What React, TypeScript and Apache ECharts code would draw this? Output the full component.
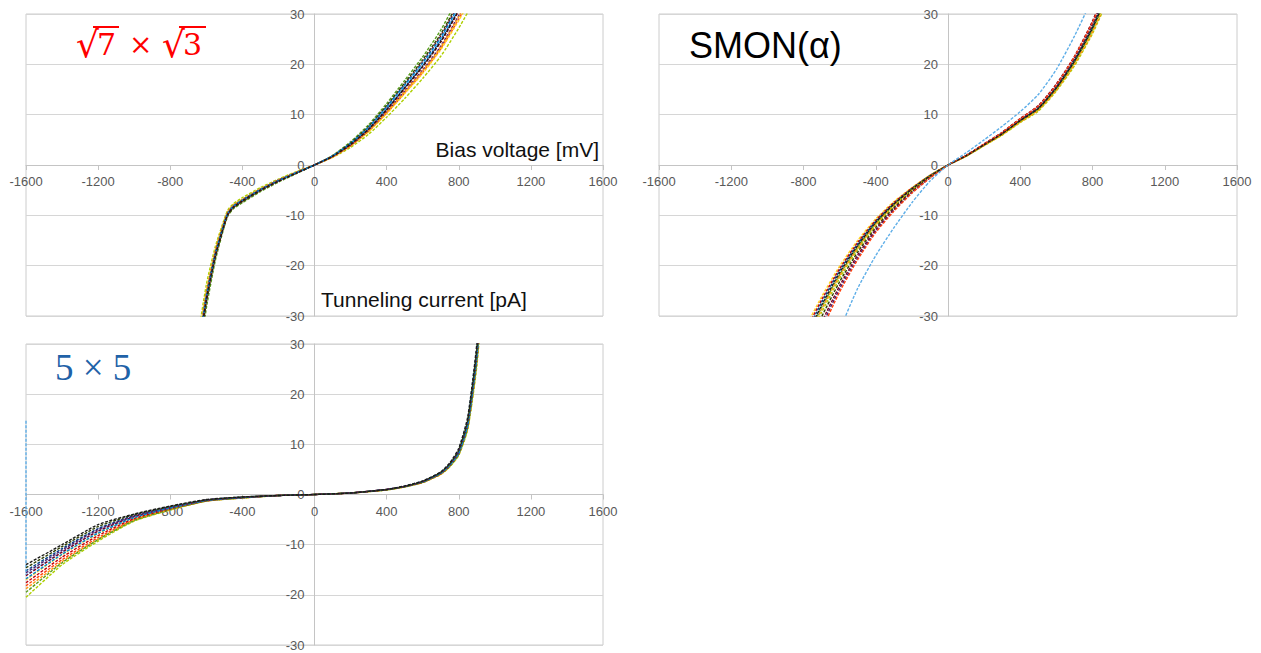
import React, { useEffect, useRef } from 'react';
import * as echarts from 'echarts';

// ---------- Panel 1: √7 × √3 ----------
const P1_BIAS = [-650, -600, -550, -500, -480, -450, -400, -300, -200, -100, 0, 100, 200, 300, 400, 500, 600, 700, 800, 900];
const p1_1 = [-41, -28.5, -19, -12.2, -10.1, -8.7, -7.5, -5.3, -3.4, -1.7, 0, 1.9, 4.6, 8.0, 12.2, 16.8, 21.5, 26.8, 33.5, 41];
const p1_2 = [-35, -23.8, -16.2, -10.7, -8.9, -7.7, -6.5, -4.5, -2.8, -1.3, 0, 1.5, 3.5, 6.1, 9.5, 13.2, 17.2, 21.6, 27.2, 33.5];
const p1_3 = [-38.5, -26.4, -17.8, -11.6, -9.6, -8.3, -7.1, -5.0, -3.1, -1.5, 0, 1.7, 4.1, 7.2, 11.1, 15.4, 19.8, 24.8, 31.0, 38];
const p1_4 = [-37.2, -25.4, -17.1, -11.2, -9.3, -8.0, -6.9, -4.8, -3.0, -1.5, 0, 1.6, 3.8, 6.7, 10.3, 14.3, 18.4, 23.1, 29.0, 35.6];
const p1_5 = [-36.5, -25.0, -16.8, -11.0, -9.2, -7.9, -6.8, -4.7, -3.0, -1.4, 0, 1.6, 3.8, 6.6, 10.2, 14.2, 18.2, 22.9, 28.7, 35.2];
const p1_6 = [-39.2, -26.9, -18.1, -11.8, -9.8, -8.4, -7.2, -5.0, -3.2, -1.6, 0, 1.8, 4.3, 7.5, 11.6, 16.0, 20.5, 25.6, 32.0, 39];
const p1_7 = [-38.2, -26.2, -17.6, -11.5, -9.5, -8.2, -7.0, -4.9, -3.1, -1.5, 0, 1.8, 4.2, 7.4, 11.4, 15.7, 20.1, 25.0, 31.3, 38.3];
const p1_8 = [-39.8, -27.4, -18.4, -11.9, -9.9, -8.5, -7.3, -5.1, -3.2, -1.6, 0, 1.8, 4.4, 7.7, 11.8, 16.3, 20.9, 26.0, 32.5, 39.6];
const p1_9 = [-37.6, -25.7, -17.3, -11.3, -9.4, -8.1, -6.9, -4.8, -3.0, -1.5, 0, 1.7, 3.9, 6.9, 10.6, 14.7, 18.9, 23.6, 29.7, 36.4];
const p1_10 = [-37.9, -25.9, -17.4, -11.4, -9.5, -8.2, -7.0, -4.9, -3.1, -1.5, 0, 1.6, 3.9, 6.8, 10.5, 14.6, 18.7, 23.4, 29.5, 36.1];
const p1_11 = [-38.8, -26.6, -17.9, -11.7, -9.7, -8.3, -7.1, -5.0, -3.2, -1.5, 0, 1.7, 4.0, 7.1, 10.9, 15.2, 19.5, 24.4, 30.6, 37.5];
const p1_12 = [-38.3, -26.2, -17.7, -11.5, -9.6, -8.2, -7.0, -4.9, -3.1, -1.5, 0, 1.8, 4.3, 7.5, 11.5, 15.9, 20.3, 25.3, 31.6, 38.6];
const p1_13 = [-38.9, -26.7, -18.0, -11.7, -9.7, -8.4, -7.1, -5.0, -3.2, -1.6, 0, 1.7, 4.1, 7.1, 11.0, 15.3, 19.6, 24.5, 30.8, 37.7];

// ---------- Panel 2: SMON(α) ----------
const P2_BIAS = [-800, -700, -600, -500, -400, -300, -200, -100, 0, 100, 200, 300, 400, 500, 600, 700, 800, 900];
const p2_1 = [-33, -26.2, -20.1, -15.0, -10.7, -7.3, -4.5, -2.0, 0, 1.76, 3.92, 6.08, 8.62, 10.98, 15.0, 20.2, 26.7, 34.8];
const p2_2 = [-33.8, -26.8, -20.6, -15.4, -11.0, -7.5, -4.6, -2.1, 0, 1.86, 4.13, 6.4, 9.09, 11.57, 15.8, 21.3, 28.1, 36.7];
const p2_3 = [-34.5, -27.3, -21.0, -15.7, -11.2, -7.7, -4.7, -2.1, 0, 1.8, 4.03, 6.25, 8.87, 11.3, 15.4, 20.8, 27.4, 35.8];
const p2_4 = [-35.8, -28.3, -21.8, -16.3, -11.6, -7.9, -4.8, -2.2, 0, 1.78, 3.96, 6.14, 8.71, 11.1, 15.1, 20.4, 26.9, 35.1];
const p2_5 = [-37, -29.3, -22.5, -16.8, -12, -8.2, -5, -2.3, 0, 1.72, 3.83, 5.94, 8.43, 10.7, 14.7, 19.7, 26.1, 34.0];
const p2_6 = [-38.2, -30.2, -23.2, -17.3, -12.4, -8.5, -5.2, -2.4, 0, 1.84, 4.08, 6.32, 8.98, 11.4, 15.6, 21.0, 27.7, 36.2];
const p2_7 = [-39.5, -31.3, -24.0, -17.9, -12.8, -8.8, -5.4, -2.5, 0, 1.89, 4.2, 6.51, 9.24, 11.8, 16.1, 21.6, 28.6, 37.3];
const p2_8 = [-40.5, -32.1, -24.6, -18.4, -13.1, -9.0, -5.5, -2.5, 0, 1.85, 4.1, 6.36, 9.02, 11.5, 15.7, 21.1, 27.9, 36.4];
const p2_9 = [-36.2, -28.7, -22.0, -16.5, -11.8, -8.0, -4.9, -2.2, 0, 1.75, 3.89, 6.03, 8.55, 10.9, 14.9, 20.0, 26.4, 34.5];
const p2_10 = [-41.5, -32.9, -25.2, -18.8, -13.4, -9.2, -5.6, -2.6, 0, 1.88, 4.17, 6.46, 9.17, 11.7, 15.9, 21.5, 28.3, 37.0];
const p2_11 = [-35.2, -27.9, -21.4, -16.0, -11.4, -7.8, -4.8, -2.2, 0, 1.8, 4.0, 6.2, 8.8, 11.2, 15.3, 20.6, 27.2, 35.5];
const p2_12 = [-60, -45, -33, -24.5, -18, -12.5, -7.5, -3.2, 0, 2.4, 5.0, 7.7, 10.6, 14.0, 19.0, 25.6, 33.3, 43];

// ---------- Panel 3: 5 × 5 ----------
const P3_BIAS = [-1600, -1400, -1200, -1000, -800, -600, -400, -200, 0, 200, 400, 500, 600, 700, 750, 800, 850, 900, 950];
const p3_1 = [-14.0, -10.0, -6.0, -3.9, -2.3, -1.0, -0.5, -0.2, 0, 0.3, 1.0, 1.7, 2.7, 4.5, 6.3, 9.2, 15.5, 30, 54];
const p3_2 = [-20.5, -14.0, -9.3, -5.3, -3.1, -1.3, -0.7, -0.2, 0, 0.3, 0.9, 1.5, 2.4, 4.0, 5.5, 7.8, 13.0, 25.5, 47];
const p3_3 = [-18.2, -13.0, -8.6, -5.0, -2.9, -1.3, -0.6, -0.2, 0, 0.3, 1.0, 1.6, 2.5, 4.1, 5.7, 8.1, 13.6, 26.8, 49];
const p3_4 = [-15.2, -10.8, -6.8, -4.2, -2.5, -1.1, -0.5, -0.2, 0, 0.3, 1.0, 1.6, 2.6, 4.3, 6.0, 8.6, 14.5, 28.4, 51];
const p3_5 = [-17.0, -12.0, -7.8, -4.6, -2.8, -1.2, -0.6, -0.2, 0, 0.3, 1.0, 1.6, 2.5, 4.2, 5.8, 8.3, 14.0, 27.5, 50];
const p3_6 = [-16.0, -11.4, -7.3, -4.4, -2.6, -1.2, -0.6, -0.2, 0, 0.3, 1.0, 1.7, 2.6, 4.4, 6.1, 8.8, 14.8, 29, 52];
const P3_6_START = [-1600, 14.7];
const p3_7 = [-18.8, -13.4, -8.9, -5.1, -3.0, -1.3, -0.7, -0.2, 0, 0.3, 0.9, 1.5, 2.4, 4.0, 5.6, 8.0, 13.3, 26.2, 48];
const p3_8 = [-16.2, -11.5, -7.3, -4.4, -2.7, -1.2, -0.6, -0.2, 0, 0.3, 1.0, 1.6, 2.5, 4.2, 5.9, 8.4, 14.2, 27.8, 50.5];
const p3_9 = [-19.5, -13.6, -9.0, -5.2, -3.0, -1.3, -0.7, -0.2, 0, 0.3, 0.9, 1.5, 2.4, 4.1, 5.6, 8.0, 13.4, 26.4, 48.5];
const p3_10 = [-14.6, -10.4, -6.4, -4.0, -2.4, -1.1, -0.5, -0.2, 0, 0.3, 1.0, 1.6, 2.6, 4.4, 6.1, 8.8, 14.8, 28.8, 52];
const p3_11 = [-17.6, -12.5, -8.2, -4.8, -2.8, -1.2, -0.6, -0.2, 0, 0.3, 1.0, 1.6, 2.5, 4.2, 5.8, 8.4, 14.1, 27.6, 50];
const p3_12 = [-15.6, -11.1, -7.0, -4.3, -2.6, -1.1, -0.6, -0.2, 0, 0.3, 1.0, 1.6, 2.6, 4.3, 5.9, 8.5, 14.3, 28, 50.8];
const p3_13 = [-16.8, -11.9, -7.7, -4.6, -2.7, -1.2, -0.6, -0.2, 0, 0.3, 1.0, 1.6, 2.5, 4.2, 5.8, 8.2, 13.8, 27.2, 49.5];

// Axis ranges / ticks
const BIAS_MIN = -1600, BIAS_MAX = 1600, BIAS_STEP = 400;
const CUR_MIN = -30, CUR_MAX = 30, CUR_STEP = 10;

const P1_SERIES = [
  { c: p1_1, col: '#579d1c' }, { c: p1_2, col: '#aecf00' }, { c: p1_3, col: '#004586' },
  { c: p1_4, col: '#ff420e' }, { c: p1_5, col: '#ffd320' }, { c: p1_6, col: '#7e0021' },
  { c: p1_7, col: '#83caff' }, { c: p1_8, col: '#314004' }, { c: p1_9, col: '#4b1f6f' },
  { c: p1_10, col: '#ff950e' }, { c: p1_11, col: '#c5000b' }, { c: p1_12, col: '#0084d1' },
  { c: p1_13, col: '#1a1a1a' },
];
const P2_SERIES = [
  { c: p2_1, col: '#ffd320' }, { c: p2_2, col: '#c5000b' }, { c: p2_3, col: '#004586' },
  { c: p2_4, col: '#579d1c' }, { c: p2_5, col: '#aecf00' }, { c: p2_6, col: '#314004' },
  { c: p2_7, col: '#7e0021' }, { c: p2_8, col: '#4b1f6f' }, { c: p2_9, col: '#ff950e' },
  { c: p2_10, col: '#ff420e' }, { c: p2_11, col: '#1a1a1a' }, { c: p2_12, col: '#5eaee8' },
];
const P3_SERIES = [
  { c: p3_2, col: '#aecf00' }, { c: p3_3, col: '#ff420e' }, { c: p3_4, col: '#004586' },
  { c: p3_5, col: '#ffd320' }, { c: p3_6, col: '#5eaee8', start: P3_6_START }, { c: p3_7, col: '#ff950e' },
  { c: p3_8, col: '#7e0021' }, { c: p3_9, col: '#579d1c' }, { c: p3_11, col: '#c5000b' },
  { c: p3_12, col: '#4b1f6f' }, { c: p3_13, col: '#0084d1' }, { c: p3_10, col: '#314004' },
  { c: p3_1, col: '#1a1a1a' },
];

function buildSeries(bias: number[], list: any[], idx: number) {
  return list.map((s: any, k: number) => {
    const data: number[][] = bias.map((v, i) => [v, s.c[i]]);
    if (s.start) data.unshift(s.start);
    return {
      type: 'line',
      name: `p${idx + 1}_${k + 1}`,
      xAxisIndex: idx,
      yAxisIndex: idx,
      data,
      showSymbol: false,
      symbol: 'none',
      smooth: s.start ? false : 0.2,
      clip: true,
      lineStyle: { color: s.col, width: 1.4, type: [3, 1.5] },
      itemStyle: { color: s.col },
    };
  });
}

const LABEL_COLOR = '#595959';
const AXIS_COLOR = '#c4c4c4';
const RED = '#ff0000';

const GRIDS = [
  { left: 26, top: 14, width: 577, height: 302 },
  { left: 659, top: 14, width: 578, height: 302 },
  { left: 26, top: 344, width: 577, height: 301 },
];

function xAxis(i: number) {
  return {
    type: 'value', gridIndex: i, min: BIAS_MIN, max: BIAS_MAX, interval: BIAS_STEP,
    position: 'bottom', offset: -GRIDS[i].height / 2,
    axisLine: { onZero: false, lineStyle: { color: AXIS_COLOR, width: 1 } },
    axisTick: { show: true, length: 5, lineStyle: { color: AXIS_COLOR } },
    axisLabel: { color: LABEL_COLOR, fontSize: 13, fontFamily: 'Liberation Sans', margin: 10, formatter: (v: number) => String(v) },
    splitLine: { show: false },
  };
}
function yAxis(i: number) {
  return {
    type: 'value', gridIndex: i, min: CUR_MIN, max: CUR_MAX, interval: CUR_STEP,
    position: 'left', offset: -GRIDS[i].width / 2,
    axisLine: { onZero: false, lineStyle: { color: AXIS_COLOR, width: 1 } },
    axisTick: { show: false },
    axisLabel: { color: LABEL_COLOR, fontSize: 13, fontFamily: 'Liberation Sans', margin: 10, formatter: (v: number) => String(v) },
    splitLine: { show: true, lineStyle: { color: '#d6d6d6', width: 1 } },
  };
}

export default function App() {
  const ref = useRef<HTMLDivElement>(null);
  useEffect(() => {
    if (!ref.current) return;
    const chart = echarts.init(ref.current, null, { renderer: 'svg' });
    const gridStyle = { show: true, borderColor: '#cccccc', borderWidth: 1, containLabel: false };
    chart.setOption({
      animation: false,
      backgroundColor: '#ffffff',
      grid: GRIDS.map((g) => ({ ...gridStyle, ...g })),
      xAxis: [xAxis(0), xAxis(1), xAxis(2)],
      yAxis: [yAxis(0), yAxis(1), yAxis(2)],
      series: [
        ...buildSeries(P1_BIAS, P1_SERIES, 0),
        ...buildSeries(P2_BIAS, P2_SERIES, 1),
        ...buildSeries(P3_BIAS, P3_SERIES, 2),
      ],
      graphic: [
        { type: 'text', x: 76, y: 44, z: 100, style: { text: '√', fill: RED, font: '36px "DejaVu Serif"', textVerticalAlign: 'middle' } },
        { type: 'text', x: 97, y: 44, z: 100, style: { text: '7', fill: RED, font: '30px "DejaVu Serif"', textVerticalAlign: 'middle' } },
        { type: 'line', z: 100, shape: { x1: 93, y1: 27, x2: 119, y2: 27 }, style: { stroke: RED, lineWidth: 2 } },
        { type: 'text', x: 129, y: 44, z: 100, style: { text: '×', fill: RED, font: '28px "DejaVu Serif"', textVerticalAlign: 'middle' } },
        { type: 'text', x: 162, y: 44, z: 100, style: { text: '√', fill: RED, font: '36px "DejaVu Serif"', textVerticalAlign: 'middle' } },
        { type: 'text', x: 183, y: 44, z: 100, style: { text: '3', fill: RED, font: '30px "DejaVu Serif"', textVerticalAlign: 'middle' } },
        { type: 'line', z: 100, shape: { x1: 179, y1: 27, x2: 206, y2: 27 }, style: { stroke: RED, lineWidth: 2 } },
        {
          type: 'text', left: 689, top: 27, z: 100,
          style: { text: 'SMON(α)', fill: '#000000', font: '36px "Liberation Sans"' },
        },
        {
          type: 'text', left: 55, top: 349, z: 100,
          style: { text: '5 × 5', fill: '#1f62a8', font: '37px "Liberation Serif"' },
        },
        {
          type: 'text', right: 1261 - 599, top: 139, z: 100,
          style: { text: 'Bias voltage [mV]', fill: '#111111', font: '21px "Liberation Sans"' },
        },
        {
          type: 'text', left: 321, top: 289, z: 100,
          style: { text: 'Tunneling current [pA]', fill: '#111111', font: '21px "Liberation Sans"' },
        },
      ],
    });
    return () => chart.dispose();
  }, []);
  return (
    <div
      ref={ref}
      style={{ position: 'absolute', left: 0, top: 0, width: 1261, height: 653, background: '#fff' }}
    />
  );
}
